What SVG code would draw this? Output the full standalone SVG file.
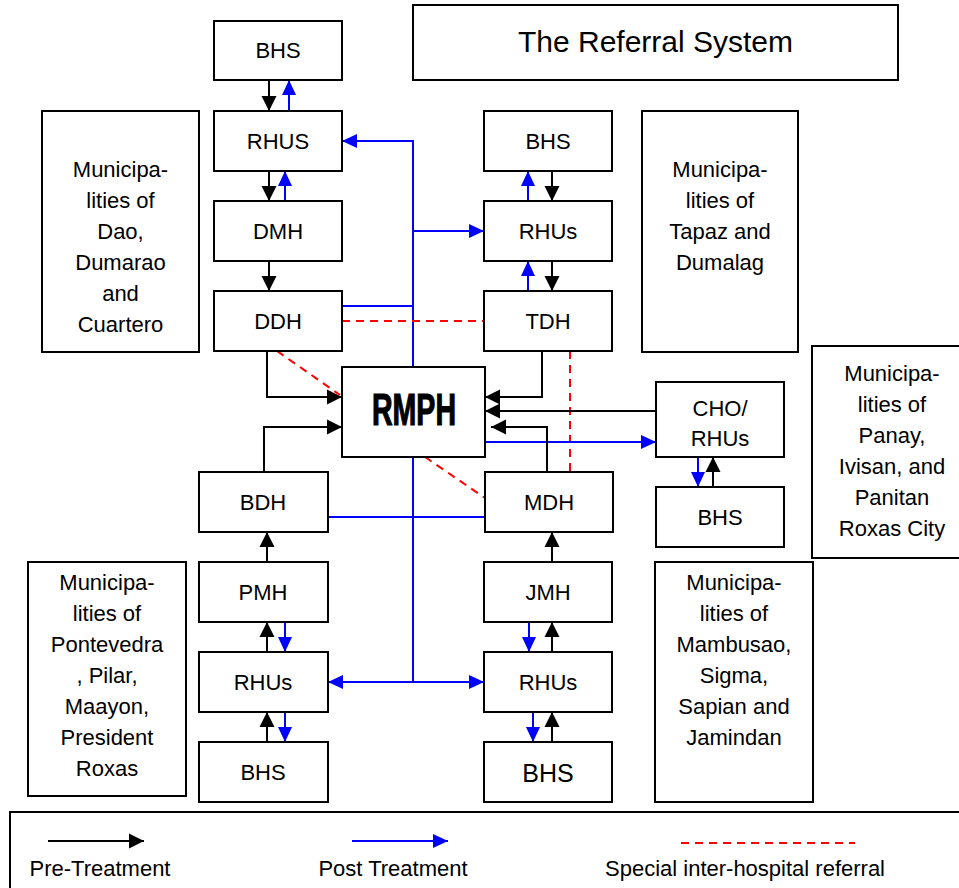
<svg xmlns="http://www.w3.org/2000/svg" width="959" height="888" viewBox="0 0 959 888">
<defs>
<style>
.box{fill:#fff;stroke:#000;stroke-width:2}
.t{font-family:"Liberation Sans",Arial,sans-serif;font-size:22px;text-anchor:middle;fill:#000}
.k{fill:none;stroke:#000;stroke-width:2}
.b{fill:none;stroke:#0000ff;stroke-width:2}
.r{fill:none;stroke:#ff0000;stroke-width:2;stroke-dasharray:8 6}
</style>
<marker id="ak" markerUnits="userSpaceOnUse" markerWidth="16" markerHeight="16" refX="15" refY="7.5" orient="auto" viewBox="0 0 16 15">
<path d="M0,0 L15,7.5 L0,15 z" fill="#000"/>
</marker>
<marker id="ab" markerUnits="userSpaceOnUse" markerWidth="16" markerHeight="16" refX="15" refY="7" orient="auto" viewBox="0 0 16 14">
<path d="M0,0 L15,7 L0,14 z" fill="#0000ff"/>
</marker>
</defs>
<rect width="959" height="888" fill="#fff"/>

<g id="connectors">
<!-- top-left column -->
<line class="k" x1="269" y1="80" x2="269" y2="111" marker-end="url(#ak)"/>
<line class="b" x1="289" y1="111" x2="289" y2="80" marker-end="url(#ab)"/>
<line class="k" x1="269" y1="171" x2="269" y2="201" marker-end="url(#ak)"/>
<line class="b" x1="285" y1="201" x2="285" y2="171" marker-end="url(#ab)"/>
<line class="k" x1="269" y1="261" x2="269" y2="291" marker-end="url(#ak)"/>
<polyline class="k" points="267,351 267,397 342,397" marker-end="url(#ak)"/>
<line class="r" x1="277" y1="351" x2="340" y2="395"/>
<!-- central blue trunk top -->
<polyline class="b" points="413,367 413,141 342,141" marker-end="url(#ab)"/>
<line class="b" x1="413" y1="231" x2="484" y2="231" marker-end="url(#ab)"/>
<line class="b" x1="342" y1="306" x2="413" y2="306"/>
<line class="r" x1="342" y1="321" x2="484" y2="321"/>
<!-- top-right column -->
<line class="b" x1="528" y1="201" x2="528" y2="171" marker-end="url(#ab)"/>
<line class="k" x1="552" y1="171" x2="552" y2="201" marker-end="url(#ak)"/>
<line class="b" x1="528" y1="291" x2="528" y2="261" marker-end="url(#ab)"/>
<line class="k" x1="552" y1="261" x2="552" y2="291" marker-end="url(#ak)"/>
<polyline class="k" points="542,351 542,397 485,397" marker-end="url(#ak)"/>
<line class="r" x1="570" y1="351" x2="570" y2="472"/>
<!-- CHO -->
<line class="k" x1="656" y1="411" x2="485" y2="411" marker-end="url(#ak)"/>
<line class="b" x1="485" y1="442" x2="656" y2="442" marker-end="url(#ab)"/>
<line class="b" x1="698" y1="457" x2="698" y2="487" marker-end="url(#ab)"/>
<line class="k" x1="713" y1="487" x2="713" y2="457" marker-end="url(#ak)"/>
<!-- MDH -->
<polyline class="k" points="547,472 547,427 491,427" marker-end="url(#ak)"/>
<line class="r" x1="425" y1="457" x2="485" y2="498"/>
<line class="k" x1="552" y1="562" x2="552" y2="532" marker-end="url(#ak)"/>
<line class="b" x1="328" y1="517" x2="485" y2="517"/>
<!-- bottom-left column -->
<polyline class="k" points="264,472 264,427 342,427" marker-end="url(#ak)"/>
<line class="k" x1="267" y1="562" x2="267" y2="532" marker-end="url(#ak)"/>
<line class="k" x1="267" y1="652" x2="267" y2="622" marker-end="url(#ak)"/>
<line class="b" x1="285" y1="622" x2="285" y2="652" marker-end="url(#ab)"/>
<line class="k" x1="267" y1="742" x2="267" y2="712" marker-end="url(#ak)"/>
<line class="b" x1="285" y1="712" x2="285" y2="742" marker-end="url(#ab)"/>
<!-- bottom-right column -->
<line class="b" x1="529" y1="622" x2="529" y2="652" marker-end="url(#ab)"/>
<line class="k" x1="552" y1="652" x2="552" y2="622" marker-end="url(#ak)"/>
<line class="b" x1="533" y1="712" x2="533" y2="742" marker-end="url(#ab)"/>
<line class="k" x1="552" y1="742" x2="552" y2="712" marker-end="url(#ak)"/>
<!-- central blue trunk bottom -->
<line class="b" x1="413" y1="457" x2="413" y2="682"/>
<line class="b" x1="413" y1="682" x2="328" y2="682" marker-end="url(#ab)"/>
<line class="b" x1="413" y1="682" x2="484" y2="682" marker-end="url(#ab)"/>
</g>

<g id="title"><rect class="box" x="413" y="5" width="485" height="75"/><text class="t" x="655.5" y="52" style="font-size:30px">The Referral System</text></g>

<g id="bhs-top"><rect class="box" x="214" y="21" width="128" height="59"/><text class="t" x="278" y="58">BHS</text></g>
<g id="rhus-top"><rect class="box" x="214" y="111" width="128" height="60"/><text class="t" x="278" y="149">RHUS</text></g>
<g id="dmh"><rect class="box" x="214" y="201" width="128" height="60"/><text class="t" x="278" y="239">DMH</text></g>
<g id="ddh"><rect class="box" x="214" y="291" width="128" height="60"/><text class="t" x="278" y="329">DDH</text></g>

<g id="bhs-tr"><rect class="box" x="484" y="111" width="128" height="60"/><text class="t" x="548" y="149">BHS</text></g>
<g id="rhus-tr"><rect class="box" x="484" y="201" width="128" height="60"/><text class="t" x="548" y="239">RHUs</text></g>
<g id="tdh"><rect class="box" x="484" y="291" width="128" height="60"/><text class="t" x="548" y="329">TDH</text></g>

<g id="rmph"><rect class="box" x="342" y="367" width="143" height="90"/><text x="414" y="425" textLength="84" lengthAdjust="spacingAndGlyphs" style="font-family:'Liberation Sans',Arial,sans-serif;font-weight:bold;font-size:44px;text-anchor:middle;stroke:#000;stroke-width:1.2">RMPH</text></g>

<g id="cho"><rect class="box" x="656" y="382" width="128" height="75"/><text class="t" x="720" y="416">CHO/</text><text class="t" x="720" y="446">RHUs</text></g>
<g id="bhs-cho"><rect class="box" x="656" y="487" width="128" height="60"/><text class="t" x="720" y="525">BHS</text></g>

<g id="bdh"><rect class="box" x="199" y="472" width="129" height="60"/><text class="t" x="263" y="510">BDH</text></g>
<g id="mdh"><rect class="box" x="485" y="472" width="128" height="60"/><text class="t" x="549" y="510">MDH</text></g>
<g id="pmh"><rect class="box" x="199" y="562" width="129" height="60"/><text class="t" x="263" y="600">PMH</text></g>
<g id="jmh"><rect class="box" x="484" y="562" width="128" height="60"/><text class="t" x="548" y="600">JMH</text></g>
<g id="rhus-bl"><rect class="box" x="199" y="652" width="129" height="60"/><text class="t" x="263" y="690">RHUs</text></g>
<g id="rhus-br"><rect class="box" x="484" y="652" width="128" height="60"/><text class="t" x="548" y="690">RHUs</text></g>
<g id="bhs-bl"><rect class="box" x="199" y="742" width="129" height="60"/><text class="t" x="263" y="780">BHS</text></g>
<g id="bhs-br"><rect class="box" x="484" y="742" width="128" height="60"/><text class="t" x="548" y="782" style="font-size:25px">BHS</text></g>

<g id="mun-dao"><rect class="box" x="42" y="111" width="157" height="241"/>
<text class="t" x="120.5" y="177">Municipa-</text><text class="t" x="120.5" y="208">lities of</text><text class="t" x="120.5" y="239">Dao,</text><text class="t" x="120.5" y="270">Dumarao</text><text class="t" x="120.5" y="301">and</text><text class="t" x="120.5" y="332">Cuartero</text></g>

<g id="mun-tapaz"><rect class="box" x="642" y="111" width="156" height="241"/>
<text class="t" x="720" y="177">Municipa-</text><text class="t" x="720" y="208">lities of</text><text class="t" x="720" y="239">Tapaz and</text><text class="t" x="720" y="270">Dumalag</text></g>

<g id="mun-panay"><rect class="box" x="812" y="346" width="160" height="212"/>
<text class="t" x="892" y="381">Municipa-</text><text class="t" x="892" y="412">lities of</text><text class="t" x="892" y="443">Panay,</text><text class="t" x="892" y="474">Ivisan, and</text><text class="t" x="892" y="505">Panitan</text><text class="t" x="892" y="536">Roxas City</text></g>

<g id="mun-pontevedra"><rect class="box" x="28" y="562" width="158" height="234"/>
<text class="t" x="107" y="590">Municipa-</text><text class="t" x="107" y="621">lities of</text><text class="t" x="107" y="652">Pontevedra</text><text class="t" x="107" y="683">, Pilar,</text><text class="t" x="107" y="714">Maayon,</text><text class="t" x="107" y="745">President</text><text class="t" x="107" y="776">Roxas</text></g>

<g id="mun-mambusao"><rect class="box" x="655" y="562" width="158" height="240"/>
<text class="t" x="734" y="590">Municipa-</text><text class="t" x="734" y="621">lities of</text><text class="t" x="734" y="652">Mambusao,</text><text class="t" x="734" y="683">Sigma,</text><text class="t" x="734" y="714">Sapian and</text><text class="t" x="734" y="745">Jamindan</text></g>

<g id="legend"><rect class="box" x="10" y="812" width="970" height="90"/>
<line class="k" x1="48" y1="841" x2="144" y2="841" marker-end="url(#ak)"/>
<line class="b" x1="352" y1="841" x2="448" y2="841" marker-end="url(#ab)"/>
<line class="r" x1="681" y1="843" x2="855" y2="843"/>
<text class="t" x="100" y="876">Pre-Treatment</text>
<text class="t" x="393" y="876">Post Treatment</text>
<text class="t" x="745" y="876">Special inter-hospital referral</text>
</g>
</svg>
